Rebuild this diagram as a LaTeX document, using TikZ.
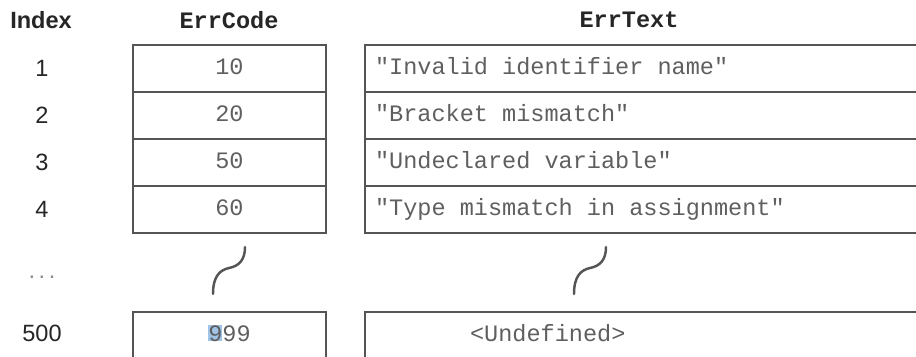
\documentclass[tikz,border=0pt]{standalone}
\usepackage{fontspec}
\setmainfont{Liberation Sans}
\setmonofont{Liberation Mono}
\usepackage{xcolor}
\usetikzlibrary{positioning}
\definecolor{linegrey}{RGB}{85,85,85}
\definecolor{valgrey}{RGB}{95,95,95}
\definecolor{selblue}{RGB}{160,196,232}
\newcommand{\selmark}[1]{{\setlength{\fboxsep}{0pt}\colorbox{selblue}{#1}}}
\newcommand{\codefont}{\fontsize{13.4}{16}\selectfont\ttfamily}
\newcommand{\celltext}[1]{\makebox[11.6cm][l]{\spaceskip=0.6em\relax\xspaceskip=0.6em\relax #1}}

\begin{document}
\begin{tikzpicture}[x=0.02cm,y=-0.02cm,
    every node/.style={font=\fontsize{13.4}{16}\selectfont, text=black!85},
    head/.style={font=\fontsize{13.4}{16}\selectfont\ttfamily\bfseries},
    codecell/.style={draw=linegrey, line width=1.1pt, minimum width=3.86cm,
        minimum height=0.94cm, inner sep=0pt, text height=1.5ex, text depth=.3ex,
        font=\codefont, text=valgrey},
    textcell/.style={codecell, minimum width=12cm, inner xsep=0.2cm},
    brk/.style={draw=linegrey, line width=1.4pt, line cap=round}]
    \useasboundingbox (0,0) rectangle (916,356);
    \clip (0,0) rectangle (916,356);

    % Column headings
    \node[font=\fontsize{13.4}{16}\selectfont\bfseries] (idxhead) at (41,20) {Index};
    \node[head] (codehead) at (229,20) {ErrCode};
    \node[head] (texthead) at (629,20) {ErrText};

    % Index column
    \node (i1) at (42,68) {1};
    \node (i2) at (42,115) {2};
    \node (i3) at (42,162) {3};
    \node (i4) at (42,209) {4};
    \node[text=black!45] (idots) at (42,277) {.\kern2pt.\kern2pt.};
    \node (i500) at (42,333) {500};

    % ErrCode array
    \node[codecell] (c1) at (229.5,68.5) {10};
    \node[codecell] (c2) at (229.5,115.5) {20};
    \node[codecell] (c3) at (229.5,162.5) {50};
    \node[codecell] (c4) at (229.5,209.5) {60};
    \node[codecell] (c500) at (229.5,335.5) {\selmark{9}99};

    % ErrText array
    \node[textcell] (t1) at (665,68.5) {\celltext{"Invalid identifier name"}};
    \node[textcell] (t2) at (665,115.5) {\celltext{"Bracket mismatch"}};
    \node[textcell] (t3) at (665,162.5) {\celltext{"Undeclared variable"}};
    \node[textcell] (t4) at (665,209.5) {\celltext{"Type mismatch in assignment"}};
    \node[textcell] (t500) at (665,335.5) {\celltext{\hspace*{1.9cm}<Undefined>}};

    % Break marks
    \draw[brk] (213,294) .. controls (213,276) and (220,270) .. (229,268)
        .. controls (239,266) and (245,260) .. (245,247);
    \draw[brk] (574,294) .. controls (574,276) and (581,270) .. (590,268)
        .. controls (600,266) and (606,260) .. (606,247);
\end{tikzpicture}
\end{document}
